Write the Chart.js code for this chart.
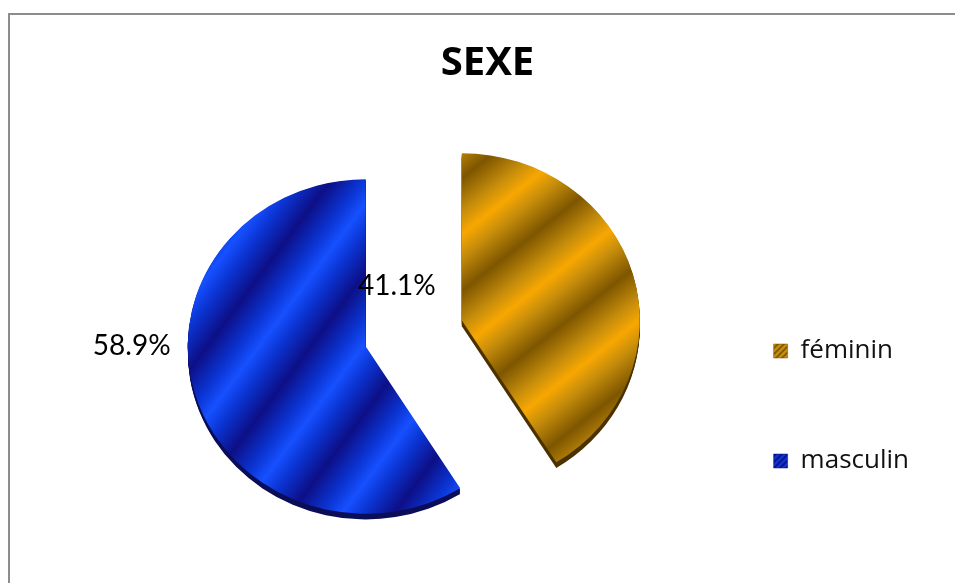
<!DOCTYPE html>
<html>
<head>
<meta charset="utf-8">
<script src="https://cdn.jsdelivr.net/npm/chart.js@4.4.1/dist/chart.umd.min.js"></script>
<style>
    html, body { margin: 0; padding: 0; background: #fff; overflow: hidden; }
    #frame {
        position: absolute; left: 8px; top: 13px;
        width: 1000px; height: 700px;
        border-top: 2px solid #8d8d8d; border-left: 2px solid #8d8d8d;
    }
    #wrap { position: absolute; left: 0; top: 0; width: 955px; height: 583px; }
</style>
</head>
<body>
<div id="frame"></div>
<div id="wrap"><canvas id="sexeChart"></canvas></div>
<script>
// Données
const categories = ['féminin', 'masculin'];
const percentages = [41.1, 58.9];

// Apparence des parts
const explodeBy = [50, 50];
const sliceLook = [
    { dark: '#7e5600', mid: '#c68d0b', light: '#f8a701', rim: '#4a3200', tilt: 40, period: 92 },
    { dark: '#0d0f86', mid: '#0b34d2', light: '#1650ff', rim: '#0a0e58', tilt: 55, period: 85 }
];
const labelShift = [[-65, -35], [-234, -1]];
const squash = 0.94;
const depth = 6;

// Dégradé rayé pour chaque part
function stripeFill(chart, i) {
    const look = sliceLook[i];
    const area = chart.chartArea;
    if (!area) return look.mid;
    const cx = (area.left + area.right) / 2;
    const cy = (area.top + area.bottom) / 2;
    const a = look.tilt * Math.PI / 180;
    const nx = Math.sin(a), ny = Math.cos(a);
    const L = 300;
    const g = chart.ctx.createLinearGradient(cx - nx * L, cy - ny * L, cx + nx * L, cy + ny * L);
    const steps = 2 * L / look.period;
    for (let k = 0; k < steps; k++) {
        const at = p => Math.min(1, (k + p) / steps);
        g.addColorStop(at(0), look.dark);
        g.addColorStop(at(0.3), look.mid);
        g.addColorStop(at(0.5), look.light);
        g.addColorStop(at(0.7), look.mid);
    }
    g.addColorStop(1, look.dark);
    return g;
}

// Petit motif pour la légende
function legendPattern(ctx, look) {
    const tile = document.createElement('canvas');
    tile.width = 6; tile.height = 6;
    const t = tile.getContext('2d');
    t.fillStyle = look.mid;
    t.fillRect(0, 0, 6, 6);
    t.strokeStyle = look.dark;
    t.lineWidth = 1.6;
    t.beginPath();
    t.moveTo(-1, 7); t.lineTo(7, -1);
    t.moveTo(-4, 4); t.lineTo(4, -4);
    t.moveTo(2, 10); t.lineTo(10, 2);
    t.stroke();
    return ctx.createPattern(tile, 'repeat');
}

// Part de camembert détachée, avec épaisseur
class ExplodedArc extends Chart.ArcElement {
    static id = 'explodedArc';
    static defaults = { ...Chart.ArcElement.defaults, explode: 0, depth: 0, depthColor: '#000' };

    draw(ctx) {
        const o = this.options;
        const mid = (this.startAngle + this.endAngle) / 2;
        const d = o.explode || 0;
        ctx.save();
        ctx.translate(Math.cos(mid) * d, Math.sin(mid) * d);
        if (o.depth) {
            ctx.fillStyle = o.depthColor;
            for (let t = 1; t <= o.depth; t++) {
                ctx.beginPath();
                ctx.moveTo(this.x, this.y + t);
                ctx.arc(this.x, this.y + t, this.outerRadius, this.startAngle, this.endAngle);
                ctx.closePath();
                ctx.fill();
            }
        }
        super.draw(ctx);
        ctx.restore();
    }
}

class ExplodedPie extends Chart.PieController {
    static id = 'explodedPie';
    static defaults = { dataElementType: 'explodedArc' };
}

Chart.register(ExplodedArc, ExplodedPie);

// Ellipse légère + étiquettes de pourcentage
const pieLook = {
    id: 'pieLook',
    beforeDatasetsDraw(chart) {
        const { ctx, chartArea: a } = chart;
        const cx = (a.left + a.right) / 2, cy = (a.top + a.bottom) / 2;
        ctx.save();
        ctx.translate(cx, cy);
        ctx.scale(1, squash);
        ctx.translate(-cx, -cy);
    },
    afterDatasetsDraw(chart) {
        const { ctx, chartArea: a } = chart;
        ctx.restore();
        const cx = (a.left + a.right) / 2, cy = (a.top + a.bottom) / 2;
        const arcs = chart.getDatasetMeta(0).data;
        ctx.save();
        ctx.font = '28px Lato';
        ctx.fillStyle = '#000';
        ctx.textAlign = 'center';
        ctx.textBaseline = 'middle';
        arcs.forEach((arc, i) => {
            const mid = (arc.startAngle + arc.endAngle) / 2;
            const x = cx + Math.cos(mid) * explodeBy[i] + labelShift[i][0];
            const y = cy + Math.sin(mid) * explodeBy[i] * squash + labelShift[i][1];
            ctx.fillText(percentages[i].toFixed(1) + '%', x, y);
        });
        ctx.restore();
    }
};

new Chart(document.getElementById('sexeChart'), {
    type: 'explodedPie',
    data: {
        labels: categories,
        datasets: [{
            data: percentages,
            backgroundColor: c => c.type === 'data' ? stripeFill(c.chart, c.dataIndex) : '#888',
            borderWidth: 0,
            explode: explodeBy,
            depth: depth,
            depthColor: sliceLook.map(l => l.rim),
            clip: false
        }]
    },
    options: {
        responsive: true,
        maintainAspectRatio: false,
        animation: false,
        radius: 178,
        layout: { padding: { top: 16, left: 56, right: 36, bottom: 5 } },
        plugins: {
            title: {
                display: true,
                text: 'SEXE',
                color: '#000',
                font: { family: 'Open Sans', size: 40, weight: 'bold' },
                padding: { top: 24, bottom: 1 }
            },
            legend: {
                position: 'right',
                align: 'start',
                title: { display: true, text: '', font: { size: 12 }, padding: { top: 305.6, bottom: 0 } },
                labels: {
                    boxWidth: 14,
                    boxHeight: 14,
                    padding: 2,
                    color: '#111',
                    font: { family: 'Open Sans', size: 26, lineHeight: '108px' },
                    generateLabels: chart => categories.map((name, i) => ({
                        text: [name],
                        fillStyle: legendPattern(chart.ctx, sliceLook[i]),
                        strokeStyle: sliceLook[i].dark,
                        lineWidth: 0.5,
                        fontColor: '#111',
                        hidden: false,
                        index: i
                    }))
                }
            },
            tooltip: { enabled: false }
        }
    },
    plugins: [pieLook]
});
</script>
</body>
</html>
